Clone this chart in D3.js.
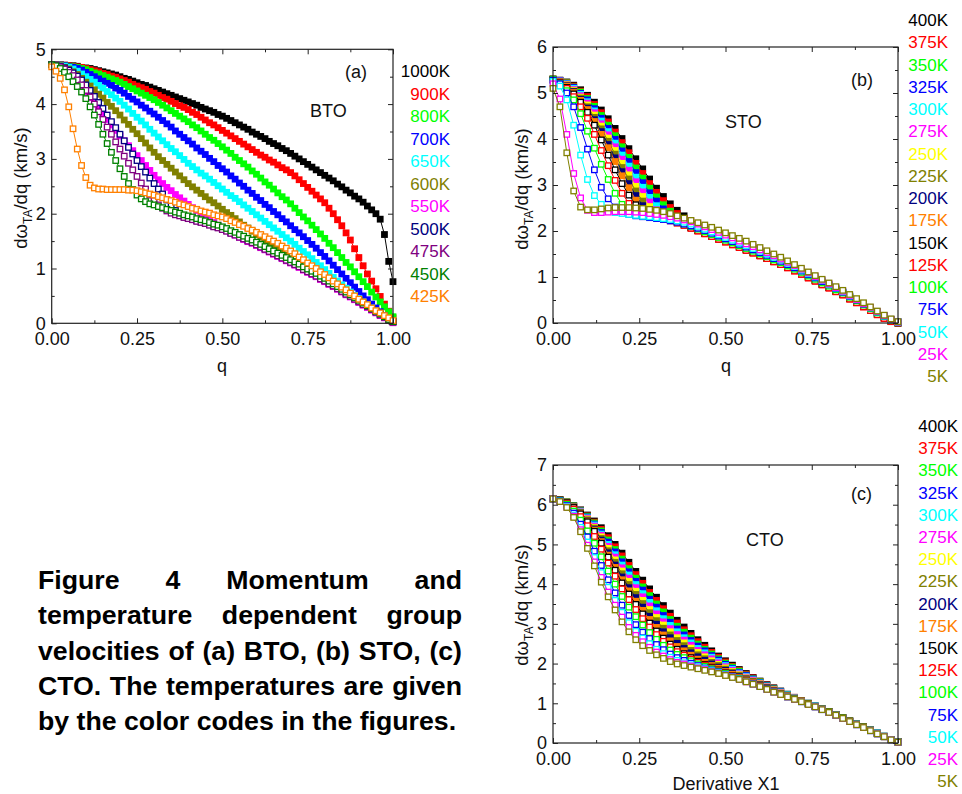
<!DOCTYPE html>
<html><head><meta charset="utf-8">
<script src="https://cdn.jsdelivr.net/npm/d3@7"></script>
<style>
body{margin:0;background:#fff}
svg{display:block}
text{font-family:"Liberation Sans",Arial,sans-serif;fill:#111}
</style>
</head><body>
<svg id="chart" width="962" height="794"></svg>
<script>
// ---------------- DATA ----------------
const qA = [0,0.0125,0.025,0.0375,0.05,0.0625,0.075,0.0875,0.1,0.1125,0.125,0.1375,0.15,0.1625,0.175,0.1875,0.2,0.2125,0.225,0.2375,0.25,0.2625,0.275,0.2875,0.3,0.3125,0.325,0.3375,0.35,0.3625,0.375,0.3875,0.4,0.4125,0.425,0.4375,0.45,0.4625,0.475,0.4875,0.5,0.5125,0.525,0.5375,0.55,0.5625,0.575,0.5875,0.6,0.6125,0.625,0.6375,0.65,0.6625,0.675,0.6875,0.7,0.7125,0.725,0.7375,0.75,0.7625,0.775,0.7875,0.8,0.8125,0.825,0.8375,0.85,0.8625,0.875,0.8875,0.9,0.9125,0.925,0.9375,0.95,0.9625,0.975,0.9875,1];
const qBC = [0,0.02,0.04,0.06,0.08,0.1,0.12,0.14,0.16,0.18,0.2,0.22,0.24,0.26,0.28,0.3,0.32,0.34,0.36,0.38,0.4,0.42,0.44,0.46,0.48,0.5,0.52,0.54,0.56,0.58,0.6,0.62,0.64,0.66,0.68,0.7,0.72,0.74,0.76,0.78,0.8,0.82,0.84,0.86,0.88,0.9,0.92,0.94,0.96,0.98,1];

const xTickLabels = ["0.00","0.25","0.50","0.75","1.00"];
const xTickValues = [0,0.25,0.5,0.75,1];

// Panel (a) BTO
const tempsA = ["1000K","900K","800K","700K","650K","600K","550K","500K","475K","450K","425K"];
const colorsA = ["#000000","#FF0000","#00FF00","#0000FF","#00FFFF","#808000","#FF00FF","#000080","#800080","#008000","#FF8000"];
const filledA = [true,true,true,true,true,true,true,false,false,false,false];
const a1000 = [4.72,4.72,4.72,4.71,4.70,4.70,4.69,4.67,4.66, 4.65,4.63,4.61,4.59,4.57,4.55,4.53,4.50, 4.47,4.45,4.42,4.39,4.36,4.34,4.31,4.28, 4.25,4.22,4.19,4.16,4.13,4.10,4.07,4.04, 4.01,3.98,3.94,3.91,3.88,3.85,3.81,3.78, 3.74,3.70,3.66,3.62,3.58,3.54,3.49,3.45, 3.41,3.37,3.32,3.28,3.24,3.19,3.15,3.10, 3.05,3.00,2.95,2.90,2.85,2.80,2.75,2.70, 2.65,2.60,2.54,2.49,2.43,2.38,2.32,2.27, 2.21,2.14,2.07,2.00,1.90,1.62,1.13,0.76];
const a900 = [4.72,4.72,4.72,4.71,4.70,4.69,4.68,4.67,4.65, 4.63,4.61,4.59,4.56,4.54,4.51,4.49,4.46, 4.43,4.40,4.36,4.33,4.30,4.27,4.23,4.20, 4.16,4.12,4.09,4.05,4.01,3.97,3.94,3.90, 3.85,3.81,3.76,3.71,3.66,3.62,3.57,3.52, 3.47,3.42,3.37,3.32,3.27,3.22,3.17,3.12, 3.07,3.03,2.98,2.94,2.89,2.84,2.80,2.75, 2.69,2.62,2.55,2.48,2.41,2.34,2.27,2.20, 2.10,2.00,1.89,1.78,1.65,1.52,1.36,1.20, 1.05,0.90,0.77,0.63,0.49,0.35,0.22,0.10];
const a800 = [4.72,4.72,4.71,4.70,4.69,4.68,4.67,4.65,4.63, 4.60,4.57,4.55,4.52,4.49,4.46,4.43,4.40, 4.36,4.32,4.28,4.24,4.20,4.16,4.12,4.08, 4.03,3.98,3.93,3.88,3.83,3.78,3.73,3.68, 3.62,3.57,3.51,3.45,3.39,3.34,3.28,3.22, 3.16,3.10,3.03,2.97,2.91,2.85,2.78,2.72, 2.65,2.58,2.52,2.45,2.38,2.31,2.25,2.18, 2.10,2.02,1.94,1.87,1.79,1.71,1.63,1.55, 1.46,1.38,1.29,1.20,1.11,1.03,0.94,0.85, 0.76,0.67,0.57,0.48,0.39,0.30,0.21,0.12];
const a700 = [4.72,4.72,4.71,4.70,4.68,4.67,4.65,4.62,4.58, 4.54,4.50,4.46,4.42,4.38,4.34,4.29,4.25, 4.20,4.14,4.09,4.04,3.98,3.93,3.87,3.82, 3.76,3.70,3.64,3.58,3.51,3.45,3.39,3.33, 3.27,3.20,3.14,3.08,3.01,2.95,2.88,2.82, 2.76,2.69,2.63,2.56,2.50,2.43,2.37,2.30, 2.24,2.17,2.11,2.04,1.98,1.91,1.85,1.78, 1.71,1.65,1.58,1.51,1.44,1.37,1.29,1.22, 1.14,1.06,0.98,0.90,0.82,0.74,0.66,0.58, 0.50,0.43,0.35,0.28,0.21,0.14,0.08,0.03];
const a650 = [4.72,4.72,4.71,4.69,4.67,4.64,4.60,4.55,4.50, 4.45,4.40,4.34,4.29,4.23,4.17,4.11,4.05, 3.98,3.91,3.83,3.76,3.69,3.62,3.54,3.47, 3.40,3.33,3.26,3.19,3.13,3.06,2.99,2.92, 2.86,2.80,2.74,2.69,2.63,2.57,2.51,2.45, 2.39,2.33,2.28,2.22,2.16,2.10,2.04,1.98, 1.92,1.86,1.80,1.74,1.68,1.62,1.56,1.50, 1.44,1.37,1.31,1.25,1.18,1.11,1.05,0.98, 0.91,0.84,0.77,0.70,0.64,0.57,0.51,0.45, 0.39,0.34,0.28,0.23,0.17,0.12,0.07,0.03];
const a600 = [4.72,4.72,4.70,4.67,4.64,4.59,4.54,4.47,4.40, 4.33,4.26,4.18,4.11,4.03,3.96,3.88,3.80, 3.71,3.63,3.54,3.46,3.37,3.29,3.20,3.12, 3.04,2.97,2.90,2.83,2.76,2.69,2.62,2.55, 2.49,2.43,2.37,2.31,2.25,2.20,2.14,2.08, 2.02,1.97,1.91,1.85,1.79,1.74,1.68,1.62, 1.57,1.51,1.46,1.40,1.35,1.29,1.24,1.18, 1.13,1.08,1.03,0.98,0.94,0.89,0.85,0.80, 0.75,0.70,0.66,0.61,0.56,0.51,0.47,0.42, 0.37,0.32,0.27,0.22,0.17,0.12,0.08,0.03];
const a550 = [4.72,4.71,4.68,4.64,4.58,4.51,4.43,4.33,4.22, 4.12,4.02,3.92,3.82,3.72,3.62,3.52,3.42, 3.33,3.24,3.15,3.06,2.97,2.88,2.79,2.70, 2.62,2.55,2.48,2.42,2.35,2.29,2.23,2.17, 2.11,2.06,2.00,1.95,1.89,1.84,1.79,1.74, 1.69,1.65,1.61,1.57,1.53,1.49,1.46,1.42, 1.38,1.34,1.30,1.26,1.22,1.18,1.14,1.10, 1.06,1.02,0.97,0.93,0.89,0.85,0.80,0.76, 0.71,0.67,0.62,0.57,0.52,0.48,0.43,0.38, 0.33,0.29,0.24,0.19,0.14,0.10,0.05,0.01];
const a500 = [4.72,4.71,4.69,4.66,4.62,4.57,4.51,4.44,4.35, 4.25,4.14,4.03,3.92,3.80,3.68,3.57,3.45, 3.33,3.21,3.09,2.97,2.86,2.76,2.65,2.55, 2.45,2.36,2.25,2.15,2.06,1.99,1.95,1.92, 1.90,1.87,1.85,1.83,1.80,1.77,1.75,1.72, 1.69,1.65,1.62,1.58,1.55,1.51,1.48,1.44, 1.40,1.36,1.32,1.28,1.24,1.20,1.16,1.12, 1.08,1.04,0.99,0.95,0.91,0.87,0.82,0.78, 0.73,0.69,0.64,0.59,0.54,0.50,0.45,0.40, 0.35,0.31,0.26,0.21,0.16,0.12,0.07,0.03];
const a475 = [4.72,4.71,4.68,4.64,4.58,4.52,4.44,4.35,4.25, 4.13,4.00,3.86,3.72,3.58,3.45,3.31,3.18, 3.05,2.92,2.80,2.68,2.56,2.45,2.34,2.24, 2.16,2.10,2.05,2.01,1.98,1.96,1.93,1.91, 1.89,1.86,1.84,1.82,1.79,1.76,1.74,1.71, 1.68,1.64,1.61,1.57,1.54,1.50,1.47,1.43, 1.39,1.35,1.31,1.27,1.23,1.19,1.15,1.11, 1.07,1.03,0.98,0.94,0.90,0.86,0.81,0.77, 0.72,0.68,0.63,0.58,0.53,0.49,0.44,0.39, 0.34,0.30,0.25,0.20,0.15,0.11,0.06,0.02];
const a450 = [4.72,4.70,4.65,4.58,4.50,4.41,4.32,4.22,4.10, 3.95,3.80,3.63,3.45,3.28,3.12,2.97,2.82, 2.68,2.55,2.44,2.34,2.27,2.22,2.18,2.16, 2.13,2.11,2.08,2.06,2.03,2.01,1.98,1.96, 1.94,1.91,1.89,1.87,1.84,1.81,1.79,1.76, 1.73,1.69,1.66,1.62,1.59,1.55,1.52,1.48, 1.44,1.40,1.36,1.32,1.28,1.24,1.20,1.16, 1.12,1.08,1.03,0.99,0.95,0.91,0.86,0.82, 0.77,0.72,0.67,0.62,0.57,0.52,0.47,0.42, 0.37,0.32,0.27,0.22,0.17,0.12,0.07,0.03];
const a425 = [4.68,4.60,4.47,4.26,3.95,3.55,3.18,2.88,2.66, 2.52,2.47,2.45,2.45,2.44,2.44,2.44,2.44, 2.44,2.43,2.43,2.42,2.40,2.38,2.36,2.34, 2.31,2.29,2.26,2.24,2.21,2.18,2.16,2.13, 2.10,2.08,2.05,2.03,2.01,1.98,1.96,1.94, 1.91,1.87,1.84,1.80,1.77,1.73,1.70,1.66, 1.62,1.58,1.54,1.50,1.46,1.41,1.37,1.32, 1.27,1.21,1.16,1.10,1.05,1.00,0.94,0.89, 0.83,0.77,0.72,0.66,0.61,0.55,0.50,0.44, 0.39,0.34,0.28,0.23,0.19,0.14,0.10,0.05];

// Panels (b) STO and (c) CTO share temperatures / colours
const tempsBC = ["400K","375K","350K","325K","300K","275K","250K","225K","200K","175K","150K","125K","100K","75K","50K","25K","5K"];
const colorsBC = ["#000000","#FF0000","#00FF00","#0000FF","#00FFFF","#FF00FF","#FFFF00","#808000","#000080","#FF8000","#000000","#FF0000","#00FF00","#0000FF","#00FFFF","#FF00FF","#808000"];
const filledBC = [true,true,true,true,true,true,true,true,true,true,false,false,false,false,false,false,false];

const b400 = [5.30,5.28,5.24,5.17,5.07,4.95,4.80,4.63,4.44,4.23,4.01,3.79,3.57,3.35,3.13,2.93,2.75,2.59,2.45,2.33, 2.08,2.01,1.95,1.89,1.83,1.77,1.71,1.65,1.59,1.53,1.47,1.41,1.34,1.28,1.21,1.14,1.07,0.99,0.92,0.84,0.77,0.69,0.62,0.53,0.45,0.36,0.28,0.19,0.11,0.03,0.00];
const b375 = [5.30,5.27,5.23,5.15,5.04,4.92,4.75,4.57,4.37,4.15,3.92,3.70,3.47,3.25,3.03,2.84,2.66,2.51,2.38,2.27, 2.06,2.00,1.94,1.88,1.82,1.76,1.70,1.64,1.58,1.52,1.46,1.40,1.33,1.27,1.20,1.13,1.06,0.98,0.91,0.83,0.76,0.68,0.61,0.52,0.44,0.35,0.27,0.18,0.10,0.03,0.00];
const b350 = [5.30,5.27,5.22,5.13,5.02,4.88,4.71,4.51,4.30,4.07,3.83,3.60,3.37,3.15,2.93,2.74,2.57,2.43,2.31,2.21, 2.08,2.02,1.96,1.90,1.84,1.78,1.72,1.66,1.60,1.54,1.48,1.42,1.35,1.29,1.22,1.15,1.08,1.00,0.93,0.85,0.78,0.70,0.63,0.54,0.46,0.37,0.29,0.20,0.12,0.04,0.00];
const b325 = [5.29,5.27,5.21,5.12,4.99,4.85,4.66,4.45,4.23,3.99,3.74,3.51,3.27,3.05,2.83,2.65,2.48,2.35,2.24,2.17, 2.11,2.05,1.99,1.93,1.87,1.81,1.75,1.69,1.63,1.57,1.51,1.45,1.38,1.32,1.25,1.18,1.11,1.03,0.96,0.88,0.81,0.73,0.66,0.57,0.49,0.40,0.32,0.23,0.15,0.07,0.02];
const b300 = [5.29,5.26,5.20,5.10,4.97,4.81,4.61,4.39,4.16,3.91,3.65,3.41,3.17,2.95,2.73,2.55,2.39,2.28,2.23,2.18, 2.12,2.06,2.00,1.94,1.88,1.82,1.76,1.70,1.64,1.58,1.52,1.46,1.39,1.33,1.26,1.19,1.12,1.04,0.97,0.89,0.82,0.74,0.67,0.58,0.50,0.41,0.33,0.24,0.16,0.08,0.03];
const b275 = [5.29,5.26,5.19,5.08,4.94,4.78,4.57,4.33,4.09,3.83,3.56,3.32,3.07,2.85,2.63,2.46,2.31,2.27,2.22,2.17, 2.11,2.05,1.99,1.93,1.87,1.81,1.75,1.69,1.63,1.57,1.51,1.45,1.38,1.32,1.25,1.18,1.11,1.03,0.96,0.88,0.81,0.73,0.66,0.57,0.49,0.40,0.32,0.23,0.15,0.07,0.02];
const b250 = [5.29,5.25,5.18,5.06,4.91,4.74,4.52,4.28,4.02,3.75,3.47,3.22,2.97,2.75,2.53,2.36,2.30,2.26,2.21,2.16, 2.10,2.04,1.98,1.92,1.86,1.80,1.74,1.68,1.62,1.56,1.50,1.44,1.37,1.31,1.24,1.17,1.10,1.02,0.95,0.87,0.80,0.72,0.65,0.56,0.48,0.39,0.31,0.22,0.14,0.06,0.01];
const b225 = [5.29,5.24,5.17,5.04,4.89,4.70,4.47,4.22,3.95,3.67,3.38,3.13,2.87,2.65,2.43,2.35,2.31,2.27,2.22,2.17, 2.11,2.05,1.99,1.93,1.87,1.81,1.75,1.69,1.63,1.57,1.51,1.45,1.38,1.32,1.25,1.18,1.11,1.03,0.96,0.88,0.81,0.73,0.66,0.57,0.49,0.40,0.32,0.23,0.15,0.07,0.02];
const b200 = [5.28,5.24,5.16,5.03,4.86,4.67,4.42,4.16,3.88,3.59,3.29,3.03,2.77,2.55,2.37,2.34,2.30,2.26,2.21,2.16, 2.10,2.04,1.98,1.92,1.86,1.80,1.74,1.68,1.62,1.56,1.50,1.44,1.37,1.31,1.24,1.17,1.10,1.02,0.95,0.87,0.80,0.72,0.65,0.56,0.48,0.39,0.31,0.22,0.14,0.06,0.01];
const b175 = [5.28,5.24,5.15,5.01,4.84,4.64,4.38,4.10,3.81,3.51,3.20,2.94,2.67,2.45,2.36,2.33,2.29,2.25,2.20,2.15, 2.09,2.03,1.97,1.91,1.85,1.79,1.73,1.67,1.61,1.55,1.49,1.43,1.36,1.30,1.23,1.16,1.09,1.01,0.94,0.86,0.79,0.71,0.64,0.55,0.47,0.38,0.30,0.21,0.13,0.05,0.01];
const b150 = [5.30,5.23,5.12,4.98,4.80,4.58,4.30,3.98,3.65,3.33,3.03,2.78,2.57,2.42,2.34,2.31,2.27,2.23,2.18,2.13, 2.07,2.01,1.95,1.89,1.83,1.77,1.71,1.65,1.59,1.53,1.47,1.41,1.34,1.28,1.21,1.14,1.07,0.99,0.92,0.84,0.77,0.69,0.62,0.53,0.45,0.36,0.28,0.19,0.11,0.04,0.00];
const b125 = [5.30,5.22,5.10,4.92,4.70,4.45,4.10,3.75,3.42,3.10,2.82,2.60,2.43,2.35,2.32,2.30,2.26,2.22,2.17,2.12, 2.06,2.00,1.94,1.88,1.82,1.76,1.70,1.64,1.58,1.52,1.46,1.40,1.33,1.27,1.20,1.13,1.06,0.98,0.91,0.83,0.76,0.68,0.61,0.52,0.44,0.35,0.27,0.18,0.10,0.03,0.00];
const b100 = [5.30,5.21,5.05,4.85,4.55,4.17,3.80,3.45,3.12,2.82,2.58,2.42,2.35,2.32,2.30,2.29,2.27,2.24,2.20,2.15, 2.10,2.04,1.98,1.92,1.86,1.80,1.74,1.68,1.62,1.56,1.50,1.44,1.37,1.31,1.24,1.17,1.10,1.02,0.95,0.87,0.80,0.72,0.65,0.56,0.48,0.39,0.31,0.22,0.14,0.06,0.01];
const b75 = [5.28,5.20,5.00,4.70,4.25,3.78,3.33,2.95,2.70,2.52,2.42,2.36,2.33,2.31,2.29,2.27,2.25,2.22,2.19,2.15, 2.11,2.06,2.01,1.95,1.89,1.83,1.77,1.71,1.65,1.59,1.53,1.47,1.40,1.34,1.27,1.20,1.13,1.05,0.98,0.90,0.83,0.75,0.67,0.58,0.50,0.41,0.33,0.24,0.15,0.07,0.02];
const b50 = [5.25,5.15,4.85,4.30,3.65,3.12,2.77,2.58,2.45,2.40,2.38,2.36,2.34,2.32,2.31,2.29,2.27,2.25,2.22,2.19, 2.15,2.10,2.04,1.98,1.92,1.86,1.80,1.74,1.68,1.62,1.56,1.50,1.43,1.37,1.30,1.23,1.15,1.07,1.00,0.92,0.84,0.76,0.68,0.59,0.51,0.42,0.33,0.24,0.15,0.07,0.02];
const b25 = [5.20,4.87,4.10,3.25,2.72,2.45,2.40,2.40,2.41,2.42,2.42,2.42,2.41,2.40,2.38,2.36,2.34,2.31,2.28,2.24, 2.20,2.15,2.09,2.03,1.97,1.91,1.85,1.78,1.72,1.66,1.59,1.53,1.46,1.39,1.32,1.25,1.17,1.09,1.01,0.93,0.85,0.77,0.69,0.60,0.51,0.42,0.34,0.25,0.16,0.08,0.02];
const b5 = [5.10,4.70,3.70,2.87,2.52,2.46,2.46,2.48,2.50,2.51,2.51,2.51,2.50,2.49,2.47,2.45,2.42,2.38,2.33,2.28, 2.23,2.18,2.13,2.08,2.02,1.96,1.90,1.84,1.78,1.71,1.64,1.57,1.50,1.43,1.35,1.27,1.19,1.11,1.03,0.95,0.87,0.79,0.71,0.62,0.53,0.44,0.35,0.26,0.17,0.09,0.03];

const c400 = [6.15,6.12,6.07,5.98,5.87,5.74,5.59,5.42,5.22,5.00,4.78,4.55,4.32,4.10,3.88,3.67,3.46,3.27,3.09,2.92,2.76,2.60,2.46,2.32,2.19,2.07,1.96,1.85,1.75,1.65,1.56,1.47,1.39,1.31,1.23,1.15, 1.07,1.00,0.93,0.86,0.79,0.72,0.64,0.56,0.48,0.41,0.33,0.25,0.17,0.09,0.03];
const c375 = [6.15,6.12,6.07,5.97,5.86,5.72,5.56,5.38,5.17,4.94,4.71,4.47,4.24,4.02,3.79,3.59,3.38,3.19,3.02,2.85,2.70,2.55,2.41,2.28,2.16,2.04,1.93,1.83,1.73,1.64,1.55,1.46,1.38,1.30,1.22,1.15, 1.07,1.00,0.93,0.86,0.79,0.72,0.64,0.56,0.48,0.41,0.33,0.25,0.17,0.09,0.03];
const c350 = [6.15,6.12,6.07,5.97,5.85,5.71,5.54,5.34,5.11,4.87,4.63,4.39,4.15,3.93,3.71,3.50,3.30,3.11,2.94,2.79,2.64,2.49,2.36,2.24,2.12,2.01,1.91,1.81,1.71,1.62,1.54,1.45,1.37,1.29,1.22,1.14, 1.07,1.00,0.93,0.86,0.79,0.72,0.64,0.56,0.48,0.41,0.33,0.25,0.17,0.09,0.03];
const c325 = [6.15,6.12,6.06,5.96,5.84,5.69,5.51,5.30,5.06,4.81,4.56,4.31,4.07,3.85,3.62,3.42,3.21,3.04,2.87,2.72,2.58,2.44,2.32,2.20,2.09,1.98,1.88,1.78,1.70,1.61,1.52,1.44,1.36,1.29,1.21,1.14, 1.07,1.00,0.93,0.86,0.79,0.72,0.64,0.56,0.48,0.41,0.33,0.25,0.17,0.09,0.03];
const c300 = [6.15,6.12,6.06,5.96,5.83,5.67,5.49,5.26,5.00,4.74,4.48,4.23,3.99,3.76,3.54,3.33,3.13,2.96,2.80,2.65,2.52,2.38,2.27,2.16,2.05,1.95,1.86,1.76,1.68,1.59,1.51,1.43,1.35,1.28,1.21,1.13, 1.07,1.00,0.93,0.86,0.79,0.72,0.64,0.56,0.48,0.41,0.33,0.25,0.17,0.09,0.03];
const c275 = [6.15,6.12,6.06,5.95,5.82,5.66,5.46,5.23,4.95,4.68,4.41,4.15,3.91,3.68,3.45,3.25,3.05,2.88,2.73,2.59,2.46,2.33,2.22,2.12,2.02,1.92,1.83,1.74,1.66,1.58,1.50,1.42,1.35,1.27,1.20,1.13, 1.06,0.99,0.92,0.85,0.78,0.71,0.63,0.55,0.47,0.40,0.32,0.24,0.16,0.09,0.03];
const c250 = [6.15,6.12,6.06,5.95,5.81,5.64,5.43,5.19,4.90,4.61,4.33,4.07,3.82,3.59,3.36,3.16,2.97,2.80,2.65,2.52,2.39,2.28,2.17,2.07,1.98,1.89,1.80,1.72,1.64,1.56,1.49,1.41,1.34,1.26,1.19,1.13, 1.06,0.99,0.92,0.85,0.78,0.71,0.63,0.55,0.47,0.40,0.32,0.24,0.16,0.09,0.03];
const c225 = [6.15,6.12,6.06,5.94,5.80,5.62,5.41,5.15,4.84,4.55,4.26,3.99,3.74,3.51,3.28,3.08,2.89,2.72,2.58,2.45,2.33,2.22,2.12,2.03,1.95,1.86,1.78,1.70,1.62,1.55,1.48,1.40,1.33,1.25,1.19,1.12, 1.06,0.99,0.92,0.85,0.78,0.71,0.63,0.55,0.47,0.40,0.32,0.24,0.16,0.09,0.03];
const c200 = [6.15,6.12,6.05,5.94,5.79,5.60,5.38,5.11,4.79,4.48,4.18,3.91,3.66,3.42,3.19,2.99,2.80,2.65,2.51,2.38,2.27,2.17,2.08,1.99,1.91,1.83,1.75,1.67,1.61,1.53,1.46,1.39,1.32,1.25,1.18,1.12, 1.06,0.99,0.92,0.85,0.78,0.71,0.63,0.55,0.47,0.40,0.32,0.24,0.16,0.09,0.03];
const c175 = [6.15,6.12,6.05,5.93,5.78,5.59,5.36,5.07,4.73,4.42,4.11,3.83,3.57,3.34,3.11,2.91,2.72,2.57,2.43,2.32,2.21,2.11,2.03,1.95,1.88,1.80,1.73,1.65,1.59,1.52,1.45,1.38,1.31,1.24,1.18,1.11, 1.06,0.99,0.92,0.85,0.78,0.71,0.63,0.55,0.47,0.40,0.32,0.24,0.16,0.09,0.03];
const c150 = [6.15,6.12,6.05,5.93,5.77,5.57,5.33,5.03,4.68,4.35,4.03,3.75,3.49,3.25,3.02,2.82,2.64,2.49,2.36,2.25,2.15,2.06,1.98,1.91,1.84,1.77,1.70,1.63,1.57,1.50,1.44,1.37,1.30,1.23,1.17,1.11, 1.05,0.98,0.92,0.85,0.78,0.71,0.63,0.55,0.47,0.40,0.32,0.24,0.16,0.09,0.03];
const c125 = [6.15,6.11,6.03,5.89,5.70,5.47,5.20,4.88,4.53,4.20,3.88,3.61,3.36,3.13,2.92,2.73,2.56,2.42,2.30,2.21,2.11,2.03,1.96,1.89,1.83,1.76,1.69,1.63,1.57,1.50,1.44,1.37,1.30,1.23,1.17,1.11, 1.05,0.98,0.92,0.85,0.78,0.71,0.63,0.55,0.47,0.40,0.32,0.24,0.16,0.09,0.03];
const c100 = [6.15,6.11,6.01,5.84,5.61,5.34,5.03,4.69,4.33,4.00,3.69,3.42,3.18,2.97,2.78,2.61,2.46,2.34,2.23,2.15,2.07,1.99,1.93,1.87,1.81,1.75,1.68,1.62,1.56,1.49,1.43,1.36,1.29,1.23,1.17,1.11, 1.05,0.98,0.92,0.85,0.78,0.71,0.63,0.55,0.47,0.40,0.32,0.24,0.16,0.09,0.03];
const c75 = [6.15,6.10,5.98,5.79,5.51,5.19,4.83,4.47,4.11,3.78,3.47,3.21,2.98,2.79,2.63,2.48,2.35,2.24,2.15,2.08,2.01,1.95,1.89,1.84,1.79,1.73,1.67,1.61,1.55,1.49,1.43,1.36,1.29,1.22,1.16,1.10, 1.04,0.97,0.91,0.84,0.77,0.70,0.62,0.54,0.46,0.39,0.31,0.23,0.16,0.08,0.02];
const c50 = [6.15,6.09,5.96,5.74,5.43,5.06,4.67,4.29,3.92,3.59,3.29,3.03,2.81,2.64,2.50,2.36,2.25,2.16,2.08,2.02,1.97,1.92,1.87,1.82,1.77,1.72,1.66,1.61,1.55,1.48,1.42,1.35,1.28,1.22,1.16,1.10, 1.04,0.97,0.91,0.84,0.77,0.70,0.62,0.54,0.46,0.39,0.31,0.23,0.16,0.08,0.02];
const c25 = [6.15,6.08,5.94,5.71,5.37,4.98,4.56,4.17,3.80,3.47,3.17,2.91,2.71,2.55,2.41,2.29,2.19,2.10,2.03,1.99,1.94,1.89,1.85,1.80,1.76,1.71,1.66,1.60,1.54,1.48,1.42,1.35,1.28,1.22,1.16,1.10, 1.04,0.97,0.91,0.84,0.77,0.70,0.62,0.54,0.46,0.39,0.31,0.23,0.16,0.08,0.02];
const c5 = [6.15,6.08,5.93,5.68,5.32,4.90,4.46,4.05,3.68,3.35,3.05,2.80,2.60,2.45,2.33,2.22,2.13,2.05,1.99,1.95,1.91,1.87,1.83,1.79,1.75,1.70,1.65,1.60,1.54,1.48,1.42,1.35,1.28,1.22,1.16,1.10, 1.04,0.97,0.91,0.84,0.77,0.70,0.62,0.54,0.46,0.39,0.31,0.23,0.16,0.08,0.02];

const valsA = [a1000,a900,a800,a700,a650,a600,a550,a500,a475,a450,a425];
const valsB = [b400,b375,b350,b325,b300,b275,b250,b225,b200,b175,b150,b125,b100,b75,b50,b25,b5];
const valsC = [c400,c375,c350,c325,c300,c275,c250,c225,c200,c175,c150,c125,c100,c75,c50,c25,c5];

const captionLines = ["Figure 4 Momentum and","temperature dependent group","velocities of (a) BTO, (b) STO, (c)","CTO. The temperatures are given","by the color codes in the figures."];

// ---------------- DRAWING ----------------
const svg = d3.select("#chart");
const problems = [];

function drawPanel(cfg){
  const x = d3.scaleLinear().domain([0,1]).range([cfg.x0, cfg.x1]);
  const y = d3.scaleLinear().domain([0,cfg.ymax]).range([cfg.y0, cfg.yTop]);
  const g = svg.append("g");
  const sz = cfg.size;
  cfg.temps.forEach((t,i)=>{
    const vals = cfg.vals[i];
    if (vals.length !== cfg.qs.length) problems.push(cfg.name+" "+t+" len "+vals.length);
    const n = Math.min(vals.length, cfg.qs.length);
    const pts = [];
    for (let k=0;k<n;k++) pts.push([cfg.qs[k], vals[k]]);
    const col = cfg.colors[i];
    g.append("path")
      .attr("d", d3.line().x(d=>x(d[0])).y(d=>y(d[1]))(pts))
      .attr("fill","none").attr("stroke",col).attr("stroke-width",1);
    const filled = cfg.filled[i];
    const s = filled ? sz : sz-1.3;
    g.append("g").selectAll("rect").data(pts).enter().append("rect")
      .attr("x", d=>x(d[0]) - s/2)
      .attr("y", d=>y(d[1]) - s/2)
      .attr("width", s)
      .attr("height", s)
      .attr("fill", filled? col : "#ffffff")
      .attr("stroke", filled? "none" : col)
      .attr("stroke-width", 1.3);
  });
  // frame
  g.append("rect").attr("x",cfg.x0).attr("y",cfg.yTop)
    .attr("width",cfg.x1-cfg.x0).attr("height",cfg.y0-cfg.yTop)
    .attr("fill","none").attr("stroke","#222").attr("stroke-width",1.2);
  // axes (inward ticks)
  const yMajor = d3.range(0, cfg.ymax+0.001, 1);
  const yMinor = d3.range(0.5, cfg.ymax, 1);
  const xMinor = [0.125,0.375,0.625,0.875];
  const styleAxis = sel => { sel.select(".domain").remove(); sel.selectAll("line").attr("stroke","#222").attr("stroke-width",1); sel.selectAll("text").attr("font-size",18).attr("fill","#111").attr("font-family","'Liberation Sans',Arial,sans-serif"); };
  g.append("g").attr("transform",`translate(0,${cfg.y0})`)
    .call(d3.axisBottom(x).tickValues(xTickValues).tickFormat((d,i)=>xTickLabels[i]).tickSizeInner(-5).tickSizeOuter(0).tickPadding(9)).call(styleAxis);
  g.append("g").attr("transform",`translate(0,${cfg.y0})`)
    .call(d3.axisBottom(x).tickValues(xMinor).tickFormat("").tickSizeInner(-3).tickSizeOuter(0)).call(styleAxis);
  g.append("g").attr("transform",`translate(0,${cfg.yTop})`)
    .call(d3.axisTop(x).tickValues(xTickValues).tickFormat("").tickSizeInner(-5).tickSizeOuter(0)).call(styleAxis);
  g.append("g").attr("transform",`translate(0,${cfg.yTop})`)
    .call(d3.axisTop(x).tickValues(xMinor).tickFormat("").tickSizeInner(-3).tickSizeOuter(0)).call(styleAxis);
  g.append("g").attr("transform",`translate(${cfg.x0},0)`)
    .call(d3.axisLeft(y).tickValues(yMajor).tickFormat(d3.format("d")).tickSizeInner(-5).tickSizeOuter(0).tickPadding(6)).call(styleAxis);
  g.append("g").attr("transform",`translate(${cfg.x0},0)`)
    .call(d3.axisLeft(y).tickValues(yMinor).tickFormat("").tickSizeInner(-3).tickSizeOuter(0)).call(styleAxis);
  g.append("g").attr("transform",`translate(${cfg.x1},0)`)
    .call(d3.axisRight(y).tickValues(yMajor).tickFormat("").tickSizeInner(-5).tickSizeOuter(0)).call(styleAxis);
  g.append("g").attr("transform",`translate(${cfg.x1},0)`)
    .call(d3.axisRight(y).tickValues(yMinor).tickFormat("").tickSizeInner(-3).tickSizeOuter(0)).call(styleAxis);

  // y-axis title
  const yt = svg.append("text").attr("transform",`translate(${cfg.ylabX},${cfg.ylabY}) rotate(-90)`)
    .attr("text-anchor","middle").attr("font-size",18.5);
  yt.append("tspan").text("d\u03C9");
  yt.append("tspan").attr("font-size",12).attr("dy",5).text("TA");
  yt.append("tspan").attr("dy",-5).text("/dq (km/s)");
  // x-axis title
  svg.append("text").attr("x",cfg.xlabX).attr("y",cfg.xlabY).attr("text-anchor","middle").attr("font-size",18).text(cfg.xlab);
  // panel tags
  svg.append("text").attr("x",cfg.tagX).attr("y",cfg.tagY).attr("font-size",18).text(cfg.tag);
  svg.append("text").attr("x",cfg.nameX).attr("y",cfg.nameY).attr("font-size",18).text(cfg.name);
  // legend
  cfg.temps.forEach((t,i)=>{
    svg.append("text").attr("x",cfg.legX).attr("y",cfg.legY0 + i*cfg.legDy)
      .attr("text-anchor","end").attr("font-size",17).style("fill",cfg.colors[i]).text(t);
  });
}

drawPanel({name:"BTO", tag:"(a)", qs:qA, vals:valsA, temps:tempsA, colors:colorsA, filled:filledA,
  x0:51.7, x1:393, yTop:49.3, y0:323.3, ymax:5, size:6.8,
  ylabX:27, ylabY:188, xlab:"q", xlabX:222, xlabY:372,
  tagX:345, tagY:78, nameX:310, nameY:117,
  legX:450, legY0:77, legDy:22.5});

drawPanel({name:"STO", tag:"(b)", qs:qBC, vals:valsB, temps:tempsBC, colors:colorsBC, filled:filledBC,
  x0:553, x1:898, yTop:47, y0:323, ymax:6, size:6.8,
  ylabX:528, ylabY:189, xlab:"q", xlabX:726, xlabY:372,
  tagX:851, tagY:86, nameX:725, nameY:128,
  legX:948, legY0:26, legDy:22.25});

drawPanel({name:"CTO", tag:"(c)", qs:qBC, vals:valsC, temps:tempsBC, colors:colorsBC, filled:filledBC,
  x0:553, x1:898, yTop:465, y0:743, ymax:7, size:6.8,
  ylabX:528, ylabY:605, xlab:"Derivative X1", xlabX:726, xlabY:790,
  tagX:851, tagY:500, nameX:746, nameY:546,
  legX:958, legY0:432, legDy:22.2});

// caption (justified)
const capL = 38, capR = 462, capY0 = 589, capDy = 35.3;
captionLines.forEach((line,li)=>{
  const words = line.split(" ");
  const y = capY0 + li*capDy;
  const nodes = words.map(w => svg.append("text").attr("y",y).attr("font-size",26.7).attr("font-weight","bold").style("fill","#000").text(w));
  const widths = nodes.map(n => n.node().getComputedTextLength());
  const last = li === captionLines.length-1;
  const total = d3.sum(widths);
  const gap = last ? 7.4 : (capR - capL - total)/(words.length-1);
  let xx = capL;
  nodes.forEach((n,i)=>{ n.attr("x",xx); xx += widths[i] + gap; });
});

if (problems.length) setTimeout(()=>{ throw new Error("Length problems: "+problems.join("; ")); },0);
</script>
</body></html>
